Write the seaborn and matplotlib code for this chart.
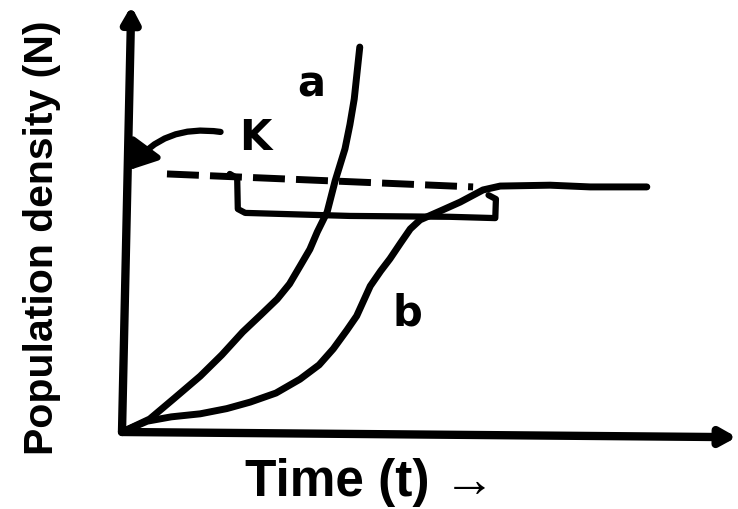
import matplotlib
matplotlib.use("Agg")
import matplotlib.pyplot as plt
import seaborn as sns

# curve a: exponential (J-shaped) growth
time_a = [0.0, 0.45, 0.85, 1.27, 1.62, 1.96, 2.25, 2.52, 2.72, 2.89, 3.05, 3.17,
          3.33, 3.46, 3.62, 3.70, 3.77, 3.86]
density_a = [0.0, 0.30, 0.78, 1.29, 1.78, 2.31, 2.70, 3.07, 3.42, 3.83, 4.22, 4.62,
             5.08, 5.80, 6.54, 7.10, 7.69, 8.89]

# curve b: logistic (S-shaped) growth, levelling off at K
time_b = [0.0, 0.41, 0.80, 1.27, 1.70, 2.08, 2.50, 2.89, 3.20, 3.43, 3.65, 3.81,
          4.03, 4.20, 4.35, 4.52, 4.68, 4.84, 5.16, 5.49, 5.86, 6.14, 6.95, 7.60, 8.52]
density_b = [0.0, 0.25, 0.35, 0.42, 0.54, 0.69, 0.90, 1.22, 1.55, 1.92, 2.35, 2.68,
             3.37, 3.72, 4.00, 4.36, 4.69, 4.90, 5.10, 5.31, 5.59, 5.68, 5.70, 5.66, 5.66]

# carrying capacity K (dashed)
k_time = [0.73, 5.70]
k_density = [5.96, 5.66]

# hand-drawn step under the K line
step_time = [1.75, 1.87, 1.88, 2.00, 3.70, 5.32, 6.06, 6.07, 5.95]
step_density = [5.96, 5.86, 5.15, 5.06, 4.99, 4.97, 4.94, 5.38, 5.47]

sns.set_style("white")
label_font = ["Liberation Sans Narrow", "Liberation Sans", "DejaVu Sans"]
plt.rcParams["font.family"] = label_font
plt.rcParams["text.color"] = "black"

fig = plt.figure(figsize=(7.38, 5.1), dpi=100)
ax = fig.add_axes([122 / 738, 77 / 510, 616 / 738, 433 / 510])

sns.lineplot(x=time_a, y=density_a, sort=False, estimator=None, color="black",
             linewidth=5, ax=ax)
sns.lineplot(x=time_b, y=density_b, sort=False, estimator=None, color="black",
             linewidth=5, ax=ax)
sns.lineplot(x=step_time, y=step_density, sort=False, estimator=None, color="black",
             linewidth=4.5, ax=ax)
sns.lineplot(x=k_time, y=k_density, sort=False, estimator=None, color="black",
             linewidth=5, ax=ax)
ax.lines[-1].set_dashes((4.6, 1.6))
for ln in ax.lines:
    ln.set_solid_capstyle("round")
    ln.set_solid_joinstyle("round")
    ln.set_clip_on(False)

ax.set_xlim(0, 10)
ax.set_ylim(0, 10)
ax.axis("off")

# axes drawn as arrows
ax.annotate("", xy=(0.15, 9.84), xytext=(0, 0),
            arrowprops=dict(arrowstyle="-|>,head_width=0.5,head_length=0.9",
                            lw=6, color="black", shrinkA=0, shrinkB=0),
            annotation_clip=False)
ax.annotate("", xy=(9.98, -0.12), xytext=(0, 0),
            arrowprops=dict(arrowstyle="-|>,head_width=0.5,head_length=0.9",
                            lw=6, color="black", shrinkA=0, shrinkB=0),
            annotation_clip=False)

# K pointer
ax.annotate("", xy=(0.12, 6.05), xytext=(1.6, 6.93),
            arrowprops=dict(arrowstyle="-|>,head_width=0.5,head_length=0.7",
                            connectionstyle="arc3,rad=0.3",
                            lw=4.5, color="black", shrinkA=0, shrinkB=0,
                            mutation_scale=22),
            annotation_clip=False)

ax.text(2.16, 6.81, "K", fontsize=30, fontweight="bold", ha="center", va="center",
        color="black", family=["DejaVu Sans"])
ax.text(3.08, 8.04, "a", fontsize=30, fontweight="bold", ha="center", va="center",
        color="black", family=["DejaVu Sans"])
ax.text(4.63, 2.77, "b", fontsize=30, fontweight="bold", ha="center", va="center",
        color="black", family=["DejaVu Sans"])

fig.text(245 / 738, (510 - 483) / 510, "Time (t) \u2192", fontsize=37,
         fontweight="bold", ha="left", va="center", color="black", family=label_font)
fig.text(42 / 738, (510 - 238) / 510, "Population density (N)", fontsize=29.5,
         fontweight="bold", ha="center", va="center", rotation=90, color="black",
         family=label_font)

fig.savefig("out.png", dpi=100, facecolor="white")
